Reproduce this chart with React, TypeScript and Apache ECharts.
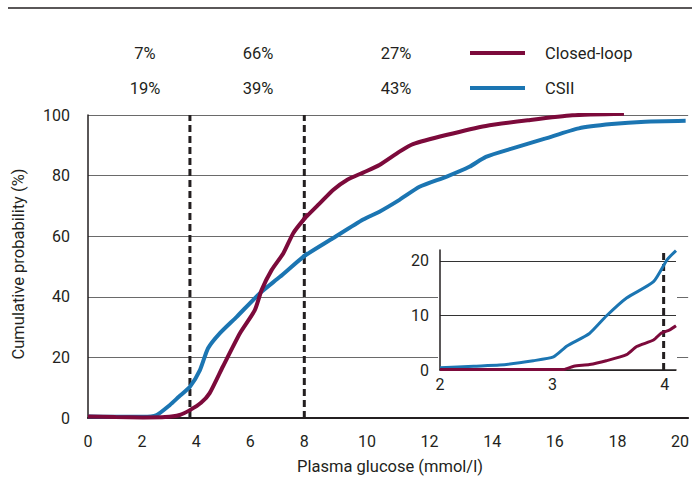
import React, { useEffect, useRef } from "react";
import * as echarts from "echarts";

// ---- data ----
const closedLoopX = [0, 1.02, 2.04, 2.85, 3.39, 3.77, 4.18, 4.5, 4.99, 5.62, 6.17, 6.42, 6.79, 7.22, 7.59, 7.96, 8.5, 8.91, 9.35, 9.88, 10.4, 11.04, 11.47, 12.53, 13.8, 15.18, 16.56, 18.21];
const closedLoopY = [0.5, 0.3, 0.2, 0.3, 1, 2.6, 5, 8.2, 17, 28, 35.6, 42.2, 48.8, 54.3, 61, 65.3, 70.9, 75.2, 78.5, 81, 83.5, 87.9, 90.4, 93.4, 96.4, 98.3, 99.9, 100.4];
const csiiX = [0, 1.02, 2.04, 2.54, 3.03, 3.36, 3.77, 4.14, 4.44, 4.88, 5.5, 6.36, 7.1, 7.96, 8.91, 9.88, 10.4, 11.04, 11.68, 12.53, 13.27, 13.8, 14.65, 15.71, 16.77, 17.82, 18.89, 20.18];
const csiiY = [0.5, 0.4, 0.4, 1, 4.3, 7, 10.3, 15.8, 23, 28, 33.4, 41.2, 46.6, 53.2, 59.3, 65.5, 68.1, 72, 76.3, 79.6, 82.9, 86.2, 89, 92.3, 95.6, 97, 97.8, 98.1];

const insetCsiiX = [2.0, 2.3, 2.53, 2.83, 3.01, 3.13, 3.33, 3.48, 3.66, 3.9, 4.02, 4.1];
const insetCsiiY = [0.4, 0.7, 0.9, 1.7, 2.4, 4.4, 6.7, 9.9, 13.2, 16.2, 20.2, 21.9];
const insetClosedX = [2.0, 3.1, 3.19, 3.33, 3.48, 3.66, 3.75, 3.9, 3.97, 4.04, 4.1];
const insetClosedY = [0.1, 0.1, 0.7, 1.0, 1.7, 2.8, 4.3, 5.5, 6.8, 7.3, 8.1];

const mainThresholds = [3.77, 8];
const insetThreshold = 3.99;

const seriesNames = ["Closed-loop", "CSII"];
const closedLoopPct = ["7%", "66%", "27%"];
const csiiPct = ["19%", "39%", "43%"];

const xTitle = "Plasma glucose (mmol/l)";
const yTitle = "Cumulative probability (%)";

// ---- styles ----
const INK = "#231f20";
const MAROON = "#7c0a3b";
const BLUE = "#1b75b2";
const FONT = "Roboto";
const TEXT_SIZE = 16.5;
const TICK_SIZE = 16;

const pairs = (xs: number[], ys: number[]) => xs.map((x, i) => [x, ys[i]]);
const intLabel = (v: number) => (Number.isInteger(v) ? String(v) : "");

export default function App() {
  const ref = useRef<HTMLDivElement>(null);

  useEffect(() => {
    document.body.style.margin = "0";
    const chart = echarts.init(ref.current!, null, { renderer: "svg" });

    const curve = (name: string, data: number[][], color: string, axis: number, width: number, z: number) => ({
      type: "line",
      name,
      xAxisIndex: axis,
      yAxisIndex: axis,
      data,
      showSymbol: false,
      smooth: 0.2,
      clip: true,
      z,
      lineStyle: { color, width },
      itemStyle: { color },
    });

    const dashed = (x: number, axis: number, top: number, z: number, width: number) => ({
      type: "line",
      name: "threshold",
      xAxisIndex: axis,
      yAxisIndex: axis,
      data: [[x, 0], [x, top]],
      showSymbol: false,
      silent: true,
      clip: false,
      z,
      lineStyle: { color: INK, width, type: [7, 4] },
    });

    const txt = `${TEXT_SIZE}px ${FONT}`;
    const pctTexts: any[] = [];
    const pctX = [145, 258, 396];
    closedLoopPct.forEach((t, i) =>
      pctTexts.push({ type: "text", x: pctX[i], y: 53, style: { text: t, fill: INK, font: txt, align: "center", verticalAlign: "middle" } })
    );
    csiiPct.forEach((t, i) =>
      pctTexts.push({ type: "text", x: pctX[i], y: 88, style: { text: t, fill: INK, font: txt, align: "center", verticalAlign: "middle" } })
    );

    const mainXAxis = {
      type: "value",
      axisLine: { lineStyle: { color: INK, width: 2 } },
      axisTick: { show: false },
      splitLine: { show: false },
      axisLabel: { color: INK, fontSize: TICK_SIZE, fontFamily: FONT, margin: 15, formatter: intLabel },
    };
    const mainYSplit = { lineStyle: { color: "#6a6a6a", width: 1 } };

    const option: any = {
      animation: false,
      textStyle: { fontFamily: FONT },
      grid: [
        { left: 88, top: 115, width: 216.3, height: 303 },
        { left: 304.3, top: 115, width: 385.7, height: 303 },
        { left: 440, top: 250, width: 236, height: 120 },
      ],
      legend: {
        data: seriesNames,
        orient: "vertical",
        left: 470,
        top: 44,
        padding: 0,
        itemWidth: 55,
        itemHeight: 4,
        itemGap: 17,
        icon: "rect",
        textStyle: { color: INK, fontSize: TEXT_SIZE, fontFamily: FONT, lineHeight: 18, padding: [0, 0, 0, 15] },
        selectedMode: false,
      },
      xAxis: [
        { ...mainXAxis, gridIndex: 0, min: 0, max: 8, interval: 2 },
        { ...mainXAxis, gridIndex: 1, min: 8, max: 20.26, interval: 2, axisLabel: { ...mainXAxis.axisLabel, showMinLabel: false } },
        {
          type: "value",
          gridIndex: 2,
          min: 2,
          max: 4.1,
          interval: 1,
          z: 5,
          axisLine: { lineStyle: { color: INK, width: 1.5 } },
          axisTick: { show: false },
          splitLine: { show: false },
          axisLabel: { color: INK, fontSize: TICK_SIZE, fontFamily: FONT, margin: 6, formatter: intLabel },
        },
      ],
      yAxis: [
        {
          type: "value",
          gridIndex: 0,
          min: 0,
          max: 100,
          interval: 20,
          axisLine: { show: true, lineStyle: { color: INK, width: 1.5 } },
          axisTick: { show: false },
          splitLine: mainYSplit,
          axisLabel: { color: INK, fontSize: TICK_SIZE, fontFamily: FONT, margin: 18 },
        },
        {
          type: "value",
          gridIndex: 1,
          min: 0,
          max: 100,
          interval: 20,
          axisLine: { show: false },
          axisTick: { show: false },
          axisLabel: { show: false },
          splitLine: mainYSplit,
        },
        {
          type: "value",
          gridIndex: 2,
          min: 0,
          max: 22,
          interval: 10,
          z: 5,
          axisLine: { show: true, lineStyle: { color: INK, width: 1.5 } },
          axisTick: { show: false },
          splitLine: { showMaxLine: false, lineStyle: { color: "#333", width: 1 } },
          axisLabel: { color: INK, fontSize: TICK_SIZE, fontFamily: FONT, margin: 11, formatter: intLabel, showMaxLabel: false },
        },
      ],
      graphic: {
        elements: [
          { type: "line", shape: { x1: 8, y1: 8, x2: 692, y2: 8 }, style: { stroke: INK, lineWidth: 1.5 } },
          { type: "rect", z: 3, shape: { x: 438, y: 245, width: 239, height: 150 }, style: { fill: "#fff" } },
          ...pctTexts,
          {
            type: "text",
            x: 390,
            y: 466,
            style: { text: xTitle, fill: INK, font: txt, align: "center", verticalAlign: "middle" },
          },
          {
            type: "text",
            x: 18,
            y: 264,
            rotation: Math.PI / 2,
            style: { text: yTitle, fill: INK, font: txt, align: "center", verticalAlign: "middle" },
          },
        ],
      },
      series: [
        dashed(mainThresholds[0], 0, 100, 2, 3),
        dashed(mainThresholds[1], 0, 100, 2, 3),
        curve(seriesNames[1], pairs(csiiX, csiiY), BLUE, 0, 4, 3),
        curve(seriesNames[0], pairs(closedLoopX, closedLoopY), MAROON, 0, 4, 4),
        curve(seriesNames[1], pairs(csiiX, csiiY), BLUE, 1, 4, 3),
        curve(seriesNames[0], pairs(closedLoopX, closedLoopY), MAROON, 1, 4, 4),
        dashed(insetThreshold, 2, 22, 6, 3),
        curve(seriesNames[1], pairs(insetCsiiX, insetCsiiY), BLUE, 2, 3, 7),
        curve(seriesNames[0], pairs(insetClosedX, insetClosedY), MAROON, 2, 3, 8),
      ],
    };

    chart.setOption(option);
    return () => chart.dispose();
  }, []);

  return <div ref={ref} style={{ width: 692, height: 480 }} />;
}
